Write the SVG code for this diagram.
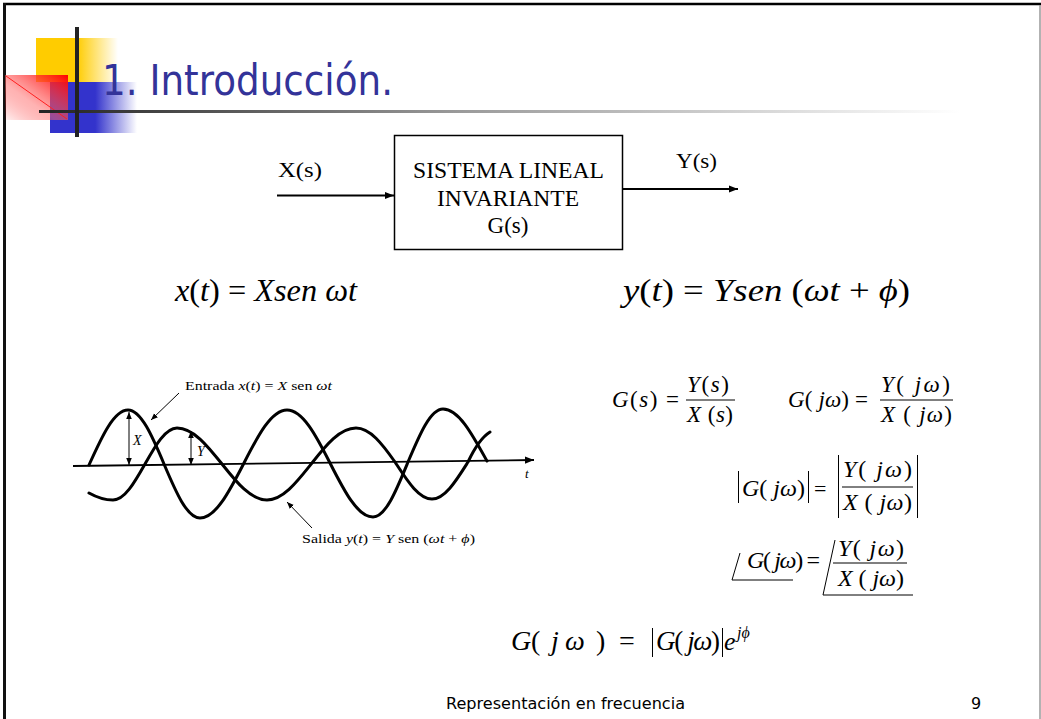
<svg xmlns="http://www.w3.org/2000/svg" width="1041" height="719" viewBox="0 0 1041 719">
<style>
.m{font-family:"Liberation Serif","Times New Roman",serif;fill:#000}
.i{font-style:italic}
.s{font-family:"DejaVu Sans","Liberation Sans",sans-serif}
.ln{stroke:#000;fill:none}
.wave{stroke:#000;stroke-width:3;fill:none;stroke-linecap:round}
</style>
<defs>
<linearGradient id="gy" x1="0" y1="0" x2="1" y2="0"><stop offset="0" stop-color="#FFCC00"/><stop offset="0.5" stop-color="#FFCC00"/><stop offset="1" stop-color="#FFCC00" stop-opacity="0"/></linearGradient>
<linearGradient id="gb" x1="0" y1="0" x2="1" y2="0"><stop offset="0" stop-color="#3333CC"/><stop offset="0.52" stop-color="#3333CC"/><stop offset="1" stop-color="#3333CC" stop-opacity="0"/></linearGradient>
<linearGradient id="gr" x1="1" y1="0" x2="0" y2="1"><stop offset="0" stop-color="#FF0000"/><stop offset="0.6" stop-color="#FF6666" stop-opacity="0.5"/><stop offset="1" stop-color="#FF0000" stop-opacity="0.05"/></linearGradient>
<linearGradient id="gl" gradientUnits="userSpaceOnUse" x1="39" y1="0" x2="960" y2="0"><stop offset="0" stop-color="#222"/><stop offset="0.45" stop-color="#999"/><stop offset="1" stop-color="#fff"/></linearGradient>
<marker id="ah" viewBox="0 0 10 10" refX="10" refY="5" markerWidth="9" markerHeight="9" markerUnits="userSpaceOnUse" orient="auto"><path d="M0,1 L10,5 L0,9 z" fill="#000"/></marker>
<marker id="as" viewBox="0 0 10 10" refX="10" refY="5" markerWidth="7" markerHeight="7" markerUnits="userSpaceOnUse" orient="auto-start-reverse"><path d="M0,1 L10,5 L0,9 z" fill="#000"/></marker>
</defs>
<rect width="1041" height="719" fill="#fff"/>
<!-- slide border -->
<line x1="3" y1="4" x2="1041" y2="4" stroke="#000" stroke-width="2.5"/>
<line x1="4.5" y1="3" x2="4.5" y2="719" stroke="#111" stroke-width="3"/>
<line x1="1040" y1="5" x2="1040" y2="719" stroke="#999" stroke-width="1.5"/>
<!-- title decoration -->
<g id="title-deco">
<rect x="36" y="38" width="82" height="44" fill="url(#gy)"/>
<rect x="50" y="82" width="87" height="51" fill="url(#gb)"/>
<rect x="5" y="75" width="63" height="45" fill="url(#gr)"/>
<line x1="6" y1="76" x2="67" y2="119" stroke="#ff2020" stroke-width="1"/>
<line x1="39" y1="111.5" x2="960" y2="111.5" stroke="url(#gl)" stroke-width="3"/>
<line x1="77" y1="27" x2="77" y2="137" stroke="#222" stroke-width="4"/>
</g>
<text id="title" x="102" y="95" class="s" font-size="43" fill="#333399" textLength="291" lengthAdjust="spacingAndGlyphs">1. Introducción.</text>
<!-- block diagram -->
<g id="box">
<rect x="394.5" y="135.5" width="228" height="114" fill="#fff" stroke="#000" stroke-width="1.5"/>
<text x="508.5" y="178" class="m" font-size="23" text-anchor="middle" textLength="191" lengthAdjust="spacingAndGlyphs">SISTEMA LINEAL</text>
<text x="508" y="206" class="m" font-size="23" text-anchor="middle" textLength="142" lengthAdjust="spacingAndGlyphs">INVARIANTE</text>
<text x="508" y="233" class="m" font-size="23" text-anchor="middle">G(s)</text>
</g>
<g id="label-xs"><text x="278" y="177" class="m" font-size="22" textLength="44" lengthAdjust="spacingAndGlyphs">X(s)</text></g>
<g id="label-ys"><text x="676" y="168" class="m" font-size="22" textLength="41" lengthAdjust="spacingAndGlyphs">Y(s)</text></g>
<g id="connectors">
<line class="ln" x1="277" y1="195.5" x2="394" y2="195.5" stroke-width="1.8" marker-end="url(#ah)"/>
<line class="ln" x1="622" y1="189" x2="738" y2="189" stroke-width="1.8" marker-end="url(#ah)"/>
</g>
<!-- time equations -->
<g id="eq-x"><text x="175" y="301" class="m" font-size="31" textLength="182" lengthAdjust="spacingAndGlyphs"><tspan class="i">x</tspan>(<tspan class="i">t</tspan>) = <tspan class="i">Xsen ωt</tspan></text></g>
<g id="eq-y"><text x="623" y="301" class="m" font-size="31" textLength="287" lengthAdjust="spacingAndGlyphs"><tspan class="i">y</tspan>(<tspan class="i">t</tspan>) = <tspan class="i">Ysen</tspan> (<tspan class="i">ωt</tspan> + <tspan class="i">ϕ</tspan>)</text></g>
<!-- waves plot -->
<g id="plot">
<line class="ln" x1="73" y1="466" x2="534" y2="460" stroke-width="1.8" marker-end="url(#ah)"/>
<text x="525" y="478" class="m i" font-size="13">t</text>
<path class="wave" d="M89,465 C101.7,436.8 113.9,410 128,410 C141,410 152.3,436.3 164,464 C175.7,491.7 187,518 200,518 C215.9,518 229.7,490.7 244,463 C258,435.6 271.4,410 287,410 C302.6,410 316,435.3 330,463 C344,490.5 357.4,517 373,517 C385.7,517 396.6,489.7 408,462 C419.4,435 430.3,409 443,409 C458.6,409 472,433.8 487,461"/>
<path class="wave" d="M89,493 C97,497.5 105,500 113,500 C124.6,500 134.6,482.4 145,464 C155.4,445.6 165.4,428 177,428 C193.3,428 207.3,445.6 222,464 C236.7,482.4 250.7,500 267,500 C283.3,500 297.3,481.4 312,463 C326.3,444.6 340.1,428 356,428 C370.1,428 382.3,444 395,462 C407.1,480.4 418.6,499 432,499 C445,499 456.3,480.4 468,462 C475.5,446 482,437 490,432"/>
<line class="ln" x1="129" y1="430" x2="129" y2="412" stroke-width="1" marker-end="url(#as)"/>
<line class="ln" x1="129" y1="430" x2="129" y2="465" stroke-width="1" marker-end="url(#as)"/>
<line class="ln" x1="191" y1="447" x2="191" y2="431" stroke-width="1" marker-end="url(#as)"/>
<line class="ln" x1="191" y1="447" x2="191" y2="465" stroke-width="1" marker-end="url(#as)"/>
<text x="133" y="445" class="m i" font-size="14">X</text>
<text x="197" y="456" class="m i" font-size="14">Y</text>
<line class="ln" x1="179" y1="393" x2="151" y2="420" stroke-width="1" marker-end="url(#as)"/>
<line class="ln" x1="312" y1="528" x2="287" y2="502" stroke-width="1" marker-end="url(#as)"/>
<text x="185" y="390" class="m" font-size="12.5" textLength="147" lengthAdjust="spacingAndGlyphs">Entrada <tspan class="i">x</tspan>(<tspan class="i">t</tspan>) = <tspan class="i">X</tspan> sen <tspan class="i">ωt</tspan></text>
<text x="302" y="543" class="m" font-size="12.5" textLength="173" lengthAdjust="spacingAndGlyphs">Salida <tspan class="i">y</tspan>(<tspan class="i">t</tspan>) = <tspan class="i">Y</tspan> sen (<tspan class="i">ωt</tspan> + <tspan class="i">ϕ</tspan>)</text>
</g>
<!-- transfer function formulas -->
<g id="eq-gs">
<text x="612" y="407" class="m" font-size="23" textLength="67" lengthAdjust="spacing"><tspan class="i">G</tspan>(<tspan class="i">s</tspan>) =</text>
<text x="687" y="392" class="m" font-size="23" textLength="42" lengthAdjust="spacing"><tspan class="i">Y</tspan>(<tspan class="i">s</tspan>)</text>
<line class="ln" x1="686" y1="400" x2="735" y2="400" stroke-width="1"/>
<text x="687" y="422" class="m" font-size="23" textLength="46" lengthAdjust="spacing"><tspan class="i">X</tspan> (<tspan class="i">s</tspan>)</text>
</g>
<g id="eq-gjw">
<text x="788" y="407" class="m" font-size="23" textLength="80" lengthAdjust="spacing"><tspan class="i">G</tspan>( <tspan class="i">jω</tspan>) =</text>
<text x="881" y="392" class="m" font-size="23" textLength="69" lengthAdjust="spacing"><tspan class="i">Y</tspan>( <tspan class="i">jω</tspan>)</text>
<line class="ln" x1="880" y1="400" x2="953" y2="400" stroke-width="1"/>
<text x="881" y="422" class="m" font-size="23" textLength="71" lengthAdjust="spacing"><tspan class="i">X</tspan> ( <tspan class="i">jω</tspan>)</text>
</g>
<g id="eq-mag">
<line class="ln" x1="738.5" y1="471" x2="738.5" y2="503" stroke-width="1"/>
<text x="742" y="496" class="m" font-size="24" textLength="63" lengthAdjust="spacing"><tspan class="i">G</tspan>( <tspan class="i">jω</tspan>)</text>
<line class="ln" x1="808.5" y1="471" x2="808.5" y2="503" stroke-width="1"/>
<text x="814" y="496" class="m" font-size="22">=</text>
<line class="ln" x1="838.5" y1="455" x2="838.5" y2="518" stroke-width="1"/>
<text x="843" y="477" class="m" font-size="24" textLength="69" lengthAdjust="spacing"><tspan class="i">Y</tspan>( <tspan class="i">jω</tspan>)</text>
<line class="ln" x1="842" y1="487" x2="913" y2="487" stroke-width="1"/>
<text x="843" y="510" class="m" font-size="24" textLength="69" lengthAdjust="spacing"><tspan class="i">X</tspan> ( <tspan class="i">jω</tspan>)</text>
<line class="ln" x1="917.5" y1="455" x2="917.5" y2="518" stroke-width="1"/>
</g>
<g id="eq-phase">
<polyline class="ln" points="740,553 732,580 793,580" stroke-width="1"/>
<text x="747" y="568" class="m" font-size="24" textLength="73" lengthAdjust="spacing"><tspan class="i">G</tspan>( <tspan class="i">jω</tspan>) =</text>
<polyline class="ln" points="835,540 823,595 913,595" stroke-width="1"/>
<text x="838" y="556" class="m" font-size="24" textLength="66" lengthAdjust="spacing"><tspan class="i">Y</tspan>( <tspan class="i">jω</tspan>)</text>
<line class="ln" x1="833" y1="563" x2="907" y2="563" stroke-width="1"/>
<text x="838" y="586" class="m" font-size="24" textLength="66" lengthAdjust="spacing"><tspan class="i">X</tspan> ( <tspan class="i">jω</tspan>)</text>
</g>
<g id="eq-polar">
<text y="650" class="m" font-size="28"><tspan class="i" x="511">G</tspan><tspan x="531">(</tspan><tspan class="i" x="551">j</tspan><tspan class="i" x="565">ω</tspan><tspan x="596">)</tspan><tspan x="619">=</tspan></text>
<line class="ln" x1="652.5" y1="628" x2="652.5" y2="657" stroke-width="1"/>
<text x="656" y="650" class="m" font-size="27" textLength="64" lengthAdjust="spacing"><tspan class="i">G</tspan>( <tspan class="i">jω</tspan>)</text>
<line class="ln" x1="722.5" y1="628" x2="722.5" y2="657" stroke-width="1"/>
<text x="724" y="650" class="m i" font-size="26">e</text>
<text x="737" y="638" class="m i" font-size="16">jϕ</text>
</g>
<!-- footer -->
<text x="446" y="709" class="s" font-size="16" fill="#000" textLength="239" lengthAdjust="spacingAndGlyphs">Representación en frecuencia</text>
<text x="971" y="709" class="s" font-size="16" fill="#000">9</text>
</svg>
